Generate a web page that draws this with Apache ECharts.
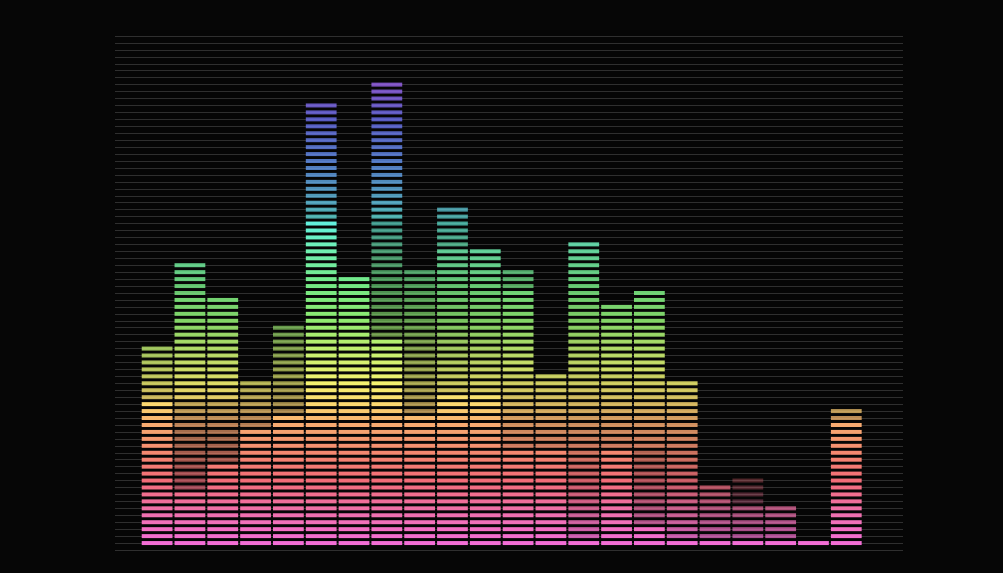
<!DOCTYPE html>
<html>
<head>
<meta charset="utf-8">
<script src="https://cdn.jsdelivr.net/npm/echarts@6/dist/echarts.min.js"></script>
<style>
html,body{margin:0;padding:0;background:#060606;}
#c{width:1003px;height:573px;}
</style>
</head>
<body>
<div id="c"></div>
<script>
// ---- data ----
const categories = ['1','2','3','4','5','6','7','8','9','10','11','12','13','14','15','16','17','18','19','20','21','22'];
const values = [29, 41, 36, 24, 32, 64, 39, 67, 40, 49, 43, 40, 25, 44, 35, 37, 24, 9, 10, 6, 1, 20];
const levelMax = 74;
// dimmed stripe ranges: [bar index, from level, to level, opacity]
const dimRanges = [
  [0, 22, 29, 0.8],
  [1, 37, 41, 0.85], [1, 22, 36, 0.9], [1, 18, 21, 0.75], [1, 9, 17, 0.66],
  [2, 22, 36, 0.9], [2, 18, 21, 0.75], [2, 13, 17, 0.66],
  [3, 18, 24, 0.72],
  [4, 20, 32, 0.64],
  [5, 48, 64, 0.75],
  [7, 48, 67, 0.75], [7, 31, 47, 0.62],
  [8, 20, 40, 0.66],
  [9, 44, 49, 0.68], [9, 23, 43, 0.82],
  [10, 23, 43, 0.86],
  [11, 38, 40, 0.72], [11, 26, 37, 0.9], [11, 15, 25, 0.84],
  [12, 15, 25, 0.84],
  [13, 26, 44, 0.86], [13, 15, 25, 0.82], [13, 2, 14, 0.84],
  [14, 26, 35, 0.9], [14, 15, 25, 0.84],
  [15, 26, 37, 0.9], [15, 15, 25, 0.84], [15, 4, 14, 0.72],
  [16, 15, 24, 0.84], [16, 2, 14, 0.82],
  [17, 2, 9, 0.72],
  [18, 7, 10, 0.32], [18, 2, 6, 0.68],
  [19, 2, 6, 0.72],
  [21, 19, 20, 0.75]
];

// ---- style: colour ramp by level ----
const rampStops = [
  [0, '#f46ee0'], [5, '#f070b0'], [10, '#f26c78'], [14, '#f58870'],
  [18, '#f7aa70'], [21, '#fcd870'], [24, '#f4f270'], [28, '#ccf070'],
  [33, '#90ea70'], [38, '#74e884'], [43, '#70f0b0'], [47, '#62f0dc'],
  [50, '#6ad4f4'], [56, '#6a9cff'], [62, '#7478ff'], [68, '#b068ff'], [74, '#c068ff']
];
function hexToRgb(h){ return [parseInt(h.substr(1,2),16), parseInt(h.substr(3,2),16), parseInt(h.substr(5,2),16)]; }
function colorAt(k){
  for (let s = 0; s < rampStops.length - 1; s++) {
    const a = rampStops[s], b = rampStops[s+1];
    if (k >= a[0] && k <= b[0]) {
      const t = (k - a[0]) / (b[0] - a[0]);
      const ca = hexToRgb(a[1]), cb = hexToRgb(b[1]);
      const c = ca.map((v, j) => Math.round(v + (cb[j] - v) * t));
      return 'rgb(' + c.join(',') + ')';
    }
  }
  return rampStops[rampStops.length-1][1];
}
function opacityOf(i, k){
  for (const r of dimRanges) {
    if (r[0] === i && k >= r[1] && k <= r[2]) return r[3];
  }
  return 1;
}

const chart = echarts.init(document.getElementById('c'), null, {renderer: 'canvas'});
chart.setOption({
  backgroundColor: '#060606',
  animation: false,
  grid: [
    {left: 115, right: 100, top: 36, bottom: 23},
    {left: 140.7, width: 722, top: 36, bottom: 23}
  ],
  xAxis: [
    {gridIndex: 0, type: 'value', min: 0, max: 1, show: false},
    {gridIndex: 1, type: 'category', data: categories, show: false}
  ],
  yAxis: [
    {gridIndex: 0, type: 'value', min: 0, max: levelMax, interval: 1,
     axisLine: {show: false}, axisTick: {show: false}, axisLabel: {show: false},
     splitLine: {show: true, lineStyle: {color: '#2f2f2f', width: 1}}},
    {gridIndex: 1, type: 'value', min: 0, max: levelMax, interval: 1, show: false,
     splitLine: {show: false}}
  ],
  series: [{
    type: 'custom',
    xAxisIndex: 1,
    yAxisIndex: 1,
    data: values.map((v, i) => [i, v]),
    renderItem: function (params, api) {
      const i = api.value(0), v = api.value(1);
      const bw = api.size([1, 0])[0] * 0.938;
      const h = 4;
      const children = [];
      for (let k = 1; k <= v; k++) {
        const p = api.coord([i, k]);
        children.push({
          type: 'rect',
          shape: {x: p[0] - bw / 2, y: p[1] - h / 2, width: bw, height: h},
          style: {fill: colorAt(k), opacity: opacityOf(i, k)}
        });
      }
      return {type: 'group', children: children};
    }
  }]
});
</script>
</body>
</html>
